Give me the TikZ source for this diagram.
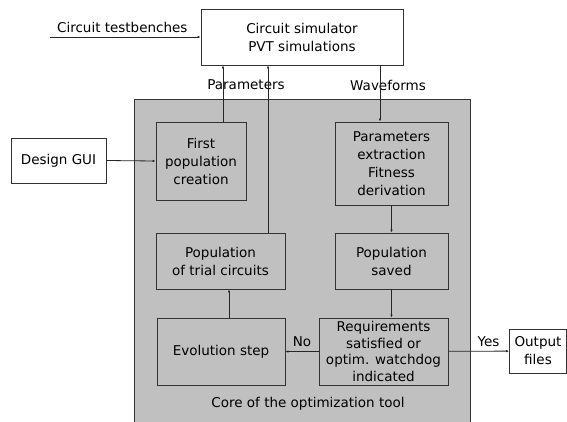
\documentclass[tikz,border=0pt]{standalone}
\usepackage{fontspec}
\setmainfont{DejaVu Sans}
\usetikzlibrary{positioning, arrows.meta}
\definecolor{coregray}{RGB}{192,192,192}

\begin{document}
\begin{tikzpicture}[x=1pt, y=-1pt,
      blk/.style={rectangle, draw=black!80, line width=0.8pt,
                  fill=white, align=center, inner sep=0pt,
                  font=\fontsize{13.5}{18}\selectfont},
      coreblk/.style={blk, fill=coregray},
      flow/.style={draw=black!85, line width=0.8pt,
                   -{Latex[length=3pt,width=2.5pt]}},
      elab/.style={font=\fontsize{13.5}{18}\selectfont, inner sep=0pt},
    ]
    \useasboundingbox (0,0) rectangle (567,421);

    % ---- core of the optimization tool -----------------------------
    \node[draw=black!80, line width=0.8pt, fill=coregray, inner sep=0pt,
          minimum width=336pt, minimum height=330pt, anchor=north west]
      (core) at (134,99) {};
    \node[elab] (corelab) at (308,404) {Core of the optimization tool};

    % ---- outer blocks ----------------------------------------------
    \node[blk, minimum width=202pt, minimum height=56pt] (sim) at (302,37)
      {Circuit simulator\\PVT simulations};
    \node[blk, minimum width=95pt, minimum height=45pt] (gui) at (58.5,160.5)
      {Design GUI};
    \node[blk, minimum width=57pt, minimum height=44pt] (out) at (538,351)
      {Output\\files};

    % ---- inner blocks ----------------------------------------------
    \node[coreblk, minimum width=90pt, minimum height=78pt] (first) at (201,161)
      {First\\population\\creation};
    \node[coreblk, minimum width=129pt, minimum height=56pt] (trial) at (220.5,261)
      {Population\\of trial circuits};
    \node[coreblk, minimum width=113pt, minimum height=83pt] (extr) at (391.5,163.5)
      {Parameters\\extraction\\Fitness\\derivation};
    \node[coreblk, minimum width=113pt, minimum height=56pt] (saved) at (391.5,261)
      {Population\\saved};
    \node[coreblk, minimum width=128pt, minimum height=67pt] (evo) at (221,351.5)
      {Evolution step};
    \node[coreblk, minimum width=129pt, minimum height=67pt,
          font=\fontsize{13.5}{16.5}\selectfont] (req) at (383.5,351.5)
      {Requirements\\satisfied or\\optim. watchdog\\indicated};

    % ---- labels between simulator and core -------------------------
    \node[elab] (parlab) at (246,85) {Parameters};
    \node[elab] (wavlab) at (388,85) {Waveforms};

    % ---- connectors ------------------------------------------------
    \coordinate (tb) at (50,37);
    \draw[flow] (tb) -- node[elab, above, pos=0.48, yshift=4pt]
      {Circuit testbenches} (sim.west);
    \draw[flow] (gui.east) -- (first.west);

    \draw[flow] ([xshift=22pt]first.north)
      -- ([xshift=22pt]first.north |- sim.south);
    \draw[flow] ([xshift=47.5pt]trial.north)
      -- ([xshift=47.5pt]trial.north |- sim.south);
    \draw[flow] ([xshift=-11.5pt]extr.north |- sim.south)
      -- ([xshift=-11.5pt]extr.north);

    \draw[flow] (extr) -- (saved);
    \draw[flow] (saved.south) -- (saved.south |- req.north);
    \draw[flow] (req) -- node[elab, above, yshift=4pt] {No} (evo);
    \draw[flow] ([xshift=8pt]evo.north) -- ([xshift=8pt]evo.north |- trial.south);
    \draw[flow] (req) -- node[elab, above, pos=0.66, yshift=4pt] {Yes} (out);

  \end{tikzpicture}
\end{document}
